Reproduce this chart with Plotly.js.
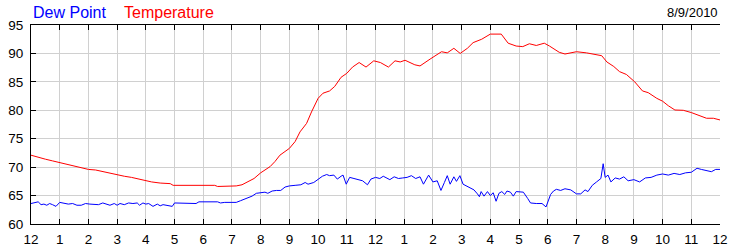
<!DOCTYPE html>
<html>
<head>
<meta charset="utf-8">
<script src="https://cdn.plot.ly/plotly-3.0.1.min.js"></script>
<style>html,body{margin:0;padding:0;background:#fff;}#chart{width:750px;height:250px;}</style>
</head>
<body>
<div id="chart"></div>
<script>
var hourTicks = [0,1,2,3,4,5,6,7,8,9,10,11,12,13,14,15,16,17,18,19,20,21,22,23,24];
var hourLabels = ['12','1','2','3','4','5','6','7','8','9','10','11','12','1','2','3','4','5','6','7','8','9','10','11','12'];
var valueTicks = [60,65,70,75,80,85,90,95];
var dateLabel = '8/9/2010';
var seriesNames = ['Dew Point', 'Temperature'];

var tempHours = [0.00,0.25,0.50,0.75,1.00,1.25,1.50,1.75,2.00,2.25,2.50,2.75,3.00,3.25,3.50,3.75,4.00,4.20,4.50,4.85,4.95,5.50,6.00,6.40,6.50,7.00,7.15,7.35,7.55,7.77,8.00,8.33,8.50,8.67,9.00,9.20,9.37,9.60,9.77,10.00,10.17,10.40,10.58,10.80,11.00,11.20,11.43,11.67,11.94,12.17,12.45,12.68,12.86,13.03,13.37,13.55,13.90,14.30,14.50,14.73,14.95,15.20,15.40,15.70,16.00,16.38,16.62,16.90,17.13,17.36,17.60,17.88,18.06,18.40,18.60,19.00,19.35,19.58,19.88,20.06,20.30,20.50,20.74,21.03,21.30,21.50,21.80,22.00,22.20,22.43,22.72,23.00,23.30,23.53,23.77,24.00];
var tempValues = [72.1,71.7,71.4,71.1,70.8,70.6,70.2,69.9,69.6,69.5,69.2,68.9,68.6,68.4,68.2,67.9,67.7,67.4,67.2,67.1,66.8,66.8,66.8,66.8,66.6,66.6,66.7,66.9,67.4,68.0,69.0,70.1,71.0,72.1,73.3,74.5,76.2,77.7,79.7,82.1,83.0,83.4,84.2,85.8,86.5,87.6,88.4,87.6,88.7,88.4,87.6,88.7,88.5,88.8,88.0,87.8,89.0,90.3,90.1,90.9,90.0,90.9,91.9,92.5,93.4,93.4,91.8,91.3,91.2,91.7,91.4,91.8,91.3,90.2,89.9,90.3,90.1,89.9,89.6,88.5,87.7,86.8,86.3,85.0,83.4,83.1,82.1,81.6,80.8,80.05,80.0,79.6,79.0,78.6,78.6,78.3];

var dewHours = [0.00,0.10,0.25,0.35,0.45,0.55,0.65,0.75,0.87,1.00,1.15,1.30,1.45,1.60,1.75,1.90,2.05,2.20,2.35,2.50,2.62,2.75,2.90,3.00,3.10,3.25,3.40,3.55,3.70,3.78,3.90,4.00,4.10,4.25,4.40,4.50,4.60,4.75,4.92,5.00,5.30,5.60,5.75,5.85,6.20,6.50,6.60,6.75,7.00,7.15,7.30,7.50,7.70,7.85,8.00,8.15,8.25,8.40,8.55,8.70,8.85,9.00,9.20,9.40,9.55,9.65,9.85,10.00,10.15,10.30,10.40,10.55,10.67,10.80,10.87,10.98,11.10,11.25,11.40,11.55,11.72,11.84,12.00,12.15,12.27,12.38,12.50,12.65,12.80,12.95,13.10,13.25,13.40,13.55,13.67,13.85,14.00,14.15,14.28,14.40,14.50,14.60,14.73,14.82,14.94,15.05,15.25,15.43,15.55,15.62,15.68,15.78,15.90,16.00,16.10,16.20,16.30,16.40,16.50,16.58,16.70,16.80,16.90,17.15,17.30,17.40,17.60,17.80,17.94,18.10,18.20,18.30,18.45,18.60,18.80,18.90,19.00,19.15,19.30,19.40,19.55,19.70,19.85,19.93,20.00,20.10,20.20,20.35,20.50,20.65,20.80,21.00,21.20,21.40,21.60,21.80,22.00,22.20,22.40,22.60,22.80,23.00,23.20,23.35,23.50,23.70,23.85,24.00];
var dewValues = [63.6,63.7,63.9,63.4,63.5,63.3,63.6,63.4,63.1,63.8,63.7,63.5,63.6,63.3,63.3,63.6,63.5,63.5,63.4,63.7,63.5,63.3,63.6,63.3,63.6,63.4,63.7,63.6,63.7,63.3,63.7,63.5,63.6,63.1,63.5,63.2,63.4,63.3,63.1,63.7,63.7,63.7,63.6,63.9,63.9,63.9,63.7,63.8,63.8,63.8,64.1,64.5,64.9,65.4,65.5,65.6,65.4,65.8,65.9,65.9,66.5,66.7,66.8,66.9,67.3,67.0,67.3,67.8,68.4,68.7,68.5,68.6,67.9,68.4,68.6,67.0,68.2,68.0,67.8,67.6,66.9,67.9,68.2,68.0,68.4,68.1,67.8,68.3,68.0,68.1,68.2,68.5,68.0,68.3,67.0,68.6,67.4,67.6,65.9,67.3,68.5,67.0,68.3,67.5,68.5,67.0,66.5,66.0,65.3,64.8,65.7,64.9,65.7,65.0,65.5,64.0,65.4,65.7,65.2,65.8,65.6,64.9,65.7,65.6,64.5,63.7,63.6,63.6,63.0,65.2,65.8,66.1,65.9,66.2,66.0,65.7,65.3,65.3,66.0,65.7,66.8,67.4,68.0,70.6,68.2,68.6,67.4,68.1,67.9,68.3,67.6,67.8,67.4,68.1,68.2,68.6,68.8,68.6,68.9,68.7,69.0,69.1,69.8,69.6,69.4,69.2,69.6,69.6];

var FONT = '"Liberation Sans", Arial, sans-serif';

var traces = [
  {x: dewHours, y: dewValues, type: 'scatter', mode: 'lines', name: seriesNames[0],
   line: {color: '#0000ff', width: 1}, hoverinfo: 'skip'},
  {x: tempHours, y: tempValues, type: 'scatter', mode: 'lines', name: seriesNames[1],
   line: {color: '#ff0000', width: 1}, hoverinfo: 'skip'}
];

var yCommon = {
  range: [60, 95], tickmode: 'array', tickvals: valueTicks, ticktext: valueTicks.map(String),
  ticks: 'inside', ticklen: 5, tickcolor: '#000', tickwidth: 1,
  showline: true, linecolor: '#000', linewidth: 1,
  tickfont: {family: FONT, size: 13.5, color: '#000'},
  zeroline: false, fixedrange: true, ticklabelstandoff: 4
};

var layout = {
  width: 750, height: 250,
  margin: {l: 31, r: 30, t: 25, b: 26, pad: 0},
  paper_bgcolor: '#ffffff', plot_bgcolor: '#ffffff',
  showlegend: false,
  xaxis: {
    range: [0, 24], tickmode: 'array', tickvals: hourTicks, ticktext: hourLabels,
    ticks: 'inside', ticklen: 5, tickcolor: '#000', tickwidth: 1,
    showline: true, linecolor: '#000', linewidth: 1, mirror: 'ticks',
    showgrid: true, gridcolor: '#d0d0d0', gridwidth: 1,
    tickfont: {family: FONT, size: 13.5, color: '#000'},
    zeroline: false, fixedrange: true, ticklabelstandoff: 3
  },
  yaxis: Object.assign({}, yCommon, {side: 'left', showgrid: true, gridcolor: '#d0d0d0', gridwidth: 1}),
  yaxis2: Object.assign({}, yCommon, {side: 'right', overlaying: 'y', showgrid: false}),
  annotations: [
    {text: seriesNames[0], xref: 'paper', yref: 'paper', x: 0.001, y: 1.065, xanchor: 'left', yanchor: 'middle',
     showarrow: false, font: {family: FONT, size: 16, color: '#0000ff'}, borderpad: 0},
    {text: seriesNames[1], xref: 'paper', yref: 'paper', x: 0.134, y: 1.065, xanchor: 'left', yanchor: 'middle',
     showarrow: false, font: {family: FONT, size: 16, color: '#ff0000'}, borderpad: 0},
    {text: dateLabel, xref: 'paper', yref: 'paper', x: 0.998, y: 1.063, xanchor: 'right', yanchor: 'middle',
     showarrow: false, font: {family: FONT, size: 13, color: '#000'}, borderpad: 0}
  ]
};

Plotly.newPlot('chart', traces, layout, {staticPlot: true, displayModeBar: false});
</script>
</body>
</html>
